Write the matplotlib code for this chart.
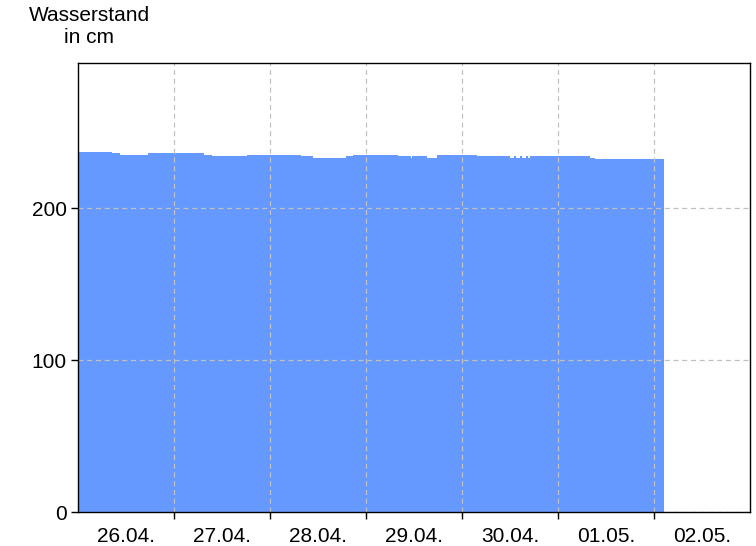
import matplotlib
matplotlib.use("Agg")
import matplotlib.pyplot as plt
import numpy as np

plt.rcParams['font.family'] = ['Liberation Sans', 'DejaVu Sans']

# Data: water level (cm), step changes in hours since 26.04. 00:00
day_labels = ['26.04.', '27.04.', '28.04.', '29.04.', '30.04.', '01.05.', '02.05.']
change_hours = [0, 8.5, 10.5, 17.5, 31.5, 33.5, 42.25, 55.75, 58.75, 67, 68.75,
                80, 83.25, 83.5, 87.25, 89.75, 99.75, 108, 109, 109.5, 110.5,
                111, 112, 112.5, 113, 128, 129.25]
levels = [237, 236, 235, 236, 235, 234, 235, 234, 233, 234, 235,
          234, 233, 234, 233, 235, 234, 233, 234, 233, 234,
          233, 234, 233, 234, 233, 232]
end_hour = 146.5
y_ticks = [0, 100, 200]

fig = plt.figure(figsize=(7.56, 5.46), dpi=100)
ax = fig.add_axes([78/756, 34/546, 672/756, 449/546])

xs = list(change_hours) + [end_hour]
ys = list(levels) + [levels[-1]]
ax.fill_between(xs, ys, 0, step='post', color='#6699ff', linewidth=0, zorder=1)

ax.set_xlim(0, 24 * len(day_labels))
ax.set_ylim(0, 295.4)

# major ticks at midnight (no labels), minor at noon (labels, no tick mark)
ax.set_xticks([24 * i for i in range(1, len(day_labels))])
ax.set_xticklabels([])
ax.set_xticks([24 * i + 12 for i in range(len(day_labels))], minor=True)
ax.set_xticklabels(day_labels, minor=True)
ax.tick_params(axis='x', which='minor', length=0, labelsize=15, pad=11)
ax.tick_params(axis='x', which='major', length=5, direction='out', width=1)

ax.set_yticks(y_ticks)
ax.set_yticklabels([str(v) for v in y_ticks])
ax.tick_params(axis='y', length=5, direction='out', width=1, labelsize=15, pad=3)

ax.grid(True, which='major', color='#c0c0c0', linestyle=(0, (4, 3)), linewidth=0.9, zorder=2)
ax.set_axisbelow(False)

for s in ax.spines.values():
    s.set_color('black')
    s.set_linewidth(1)
    s.set_zorder(3)

fig.text(89/756, 1 - 26.5/546, 'Wasserstand\nin cm', ha='center', va='center',
         fontsize=15, linespacing=1.25)

fig.savefig('out.png', dpi=100)
